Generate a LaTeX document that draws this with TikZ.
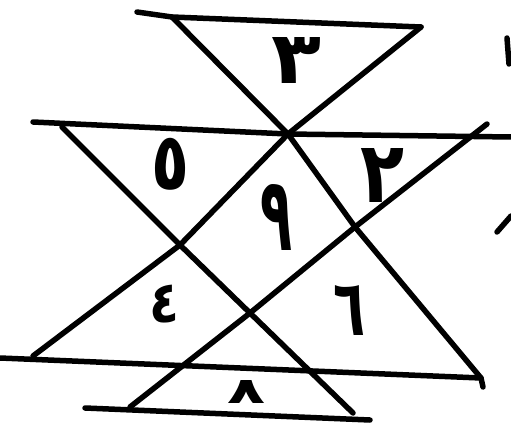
\documentclass[tikz,border=0pt]{standalone}
\usepackage{fontspec}
\usepackage{graphicx}
\newfontfamily\arabicfont[Script=Arabic]{DejaVu Sans}
\newcommand{\dg}[3]{\resizebox*{#1pt}{#2pt}{\arabicfont\bfseries #3}}
\begin{document}
\begin{tikzpicture}[x=1pt,y=-1pt,
  stroke/.style={line width=5.5pt,line cap=round,line join=round,black},
  digit/.style={inner sep=0pt}]
\useasboundingbox[fill=white] (0,0) rectangle (511,441);
% key points
\coordinate (P1) at (137,12);
\coordinate (C) at (172,17);
\coordinate (B) at (421,27);
\coordinate (O) at (288,134);
\coordinate (H1) at (33,122);
\coordinate (H2) at (511,137);
\coordinate (D) at (62,127);
\coordinate (Q) at (180,245);
\coordinate (R) at (355,227);
\coordinate (S) at (250,313);
\coordinate (T) at (487,124);
\coordinate (L1) at (0,358);
\coordinate (L2) at (481,378);
\coordinate (L3) at (483,387);
\coordinate (G) at (33,356);
\coordinate (K) at (130,407);
\coordinate (E) at (353,413);
\coordinate (M1) at (85,408);
\coordinate (M2) at (370,420);
% horizontals
\draw[stroke] (P1) -- (C) -- (B);
\draw[stroke] (H1) -- (O) -- (H2);
\draw[stroke] (L1) -- (L2) -- (L3);
\draw[stroke] (M1) -- (M2);
% diagonals
\draw[stroke] (C) -- (O) -- (R) -- (L2);
\draw[stroke] (B) -- (O) -- (Q) -- (G);
\draw[stroke] (D) -- (Q) -- (S) -- (E);
\draw[stroke] (T) -- (R) -- (S) -- (K);
% stray marks at right edge
\coordinate (X1) at (507,38);
\coordinate (X2) at (509,64);
\draw[stroke] (X1) -- (X2);
\coordinate (Y1) at (497,232);
\coordinate (Y2) at (511,216);
\draw[stroke] (Y1) -- (Y2);
% digits
\node[digit] (n3) at (297,61) {\dg{50}{46}{٣}};
\node[digit] (n5) at (171,164) {\dg{38}{52}{٥}};
\node[digit] (n9) at (277,217) {\dg{32}{66}{٩}};
\node[digit] (n2) at (383,175) {\dg{44}{54}{٢}};
\node[digit] (n4) at (164,304) {\dg{30}{38}{٤}};
\node[digit] (n6) at (349,310) {\dg{32}{50}{٦}};
\node[digit] (n8) at (247,392) {\dg{38}{23}{٨}};
\end{tikzpicture}
\end{document}
